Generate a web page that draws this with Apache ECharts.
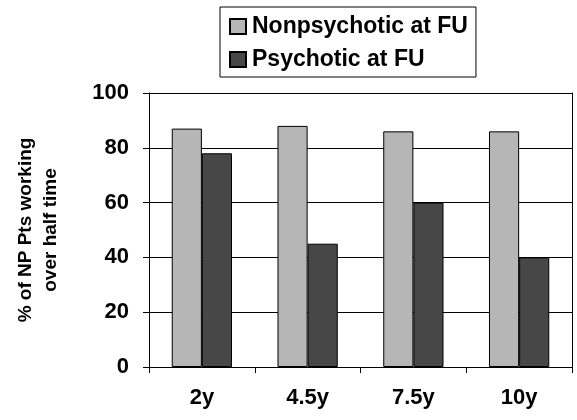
<!DOCTYPE html>
<html>
<head>
<meta charset="utf-8">
<script src="https://cdn.jsdelivr.net/npm/echarts@6/dist/echarts.min.js"></script>
<style>
  html, body { margin: 0; padding: 0; background: #fff; }
  #chart { width: 577px; height: 420px; }
</style>
</head>
<body>
<div id="chart"></div>
<script>
// Follow-up time points
const categories = ['2y', '4.5y', '7.5y', '10y'];
// % of non-psychotic patients working over half time
const nonpsychotic = [87, 88, 86, 86];
const psychotic = [78, 45, 60, 40];
const seriesNames = ['Nonpsychotic at FU', 'Psychotic at FU'];
// value-axis ticks; the inner ones carry horizontal gridlines
const yTicks = [0, 20, 40, 60, 80, 100];

const FONT = '"Liberation Sans", Arial, sans-serif';
const chart = echarts.init(document.getElementById('chart'));

const gridLines = { show: true, lineStyle: { color: '#000', width: 1 } };
const innerTicks = yTicks.slice(1, -1);

chart.setOption({
  animation: false,
  grid: { left: 149, right: 5, top: 93, bottom: 53 },
  legend: {
    orient: 'vertical',
    left: 220, top: 7,
    data: seriesNames,
    itemWidth: 16, itemHeight: 15, itemGap: 10,
    padding: [8, 8, 6, 9],
    borderColor: '#000', borderWidth: 1,
    icon: 'rect',
    textStyle: { fontFamily: FONT, fontWeight: 'bold', fontSize: 23, color: '#000', padding: [0, 0, 0, 1] }
  },
  xAxis: [
    {
      type: 'category',
      data: categories,
      position: 'bottom',
      axisLine: { show: true, lineStyle: { color: '#000', width: 1 } },
      axisTick: { show: true, length: 6, lineStyle: { color: '#000' } },
      axisLabel: { margin: 20, fontFamily: FONT, fontWeight: 'bold', fontSize: 22, color: '#000' }
    },
    {
      // top edge of the plot frame
      type: 'category',
      data: categories,
      position: 'top',
      axisLine: { show: true, onZero: false, lineStyle: { color: '#000', width: 1 } },
      axisTick: { show: false },
      axisLabel: { show: false }
    }
  ],
  yAxis: [
    {
      type: 'value',
      min: yTicks[0], max: yTicks[yTicks.length - 1], interval: yTicks[1] - yTicks[0],
      position: 'left',
      name: '% of NP Pts working\nover half time',
      nameLocation: 'middle',
      nameGap: 86,
      nameTextStyle: { fontFamily: FONT, fontWeight: 'bold', fontSize: 19, color: '#000', lineHeight: 25 },
      axisLine: { show: true, lineStyle: { color: '#000', width: 1 } },
      axisTick: { show: true, length: 6, lineStyle: { color: '#000' } },
      axisLabel: { margin: 20, fontFamily: FONT, fontWeight: 'bold', fontSize: 22, color: '#000' },
      splitLine: gridLines
    },
    {
      // right edge of the plot frame
      type: 'value',
      min: yTicks[0], max: yTicks[yTicks.length - 1], interval: yTicks[1] - yTicks[0],
      position: 'right',
      axisLine: { show: true, onZero: false, lineStyle: { color: '#000', width: 1 } },
      axisTick: { show: false },
      axisLabel: { show: false },
      splitLine: { show: false }
    }
  ],
  series: [
    {
      name: seriesNames[0], type: 'bar', data: nonpsychotic,
      barGap: '0%', barCategoryGap: '43%',
      itemStyle: { color: '#b6b6b6', borderColor: '#000', borderWidth: 1 },
      // horizontal gridlines, kept behind the bars
      markLine: {
        silent: true,
        z: 1,
        symbol: 'none',
        label: { show: false },
        lineStyle: { color: '#000', width: 1, type: 'solid' },
        emphasis: { disabled: true },
        data: innerTicks.map(v => ({ yAxis: v }))
      }
    },
    {
      name: seriesNames[1], type: 'bar', data: psychotic,
      itemStyle: { color: '#474747', borderColor: '#000', borderWidth: 1 }
    }
  ]
});
</script>
</body>
</html>
